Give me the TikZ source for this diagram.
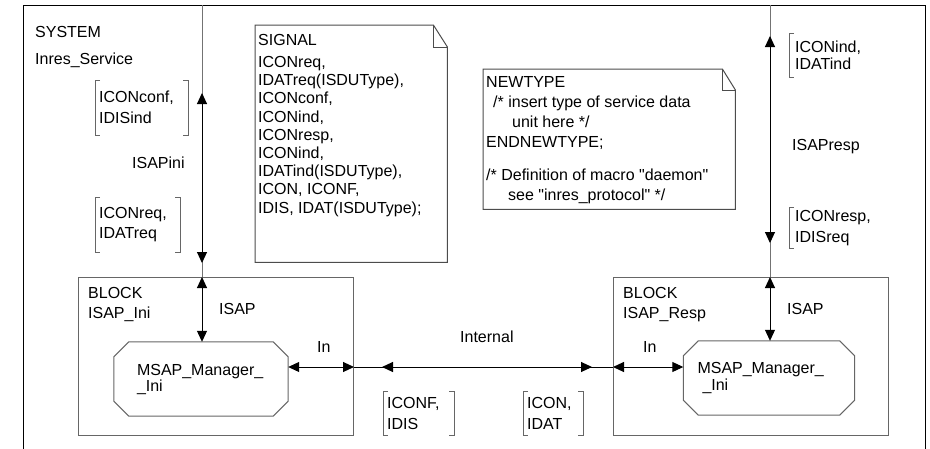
\documentclass[tikz,border=0pt]{standalone}
\usepackage{fontspec}
\setmainfont{Liberation Sans}
\usetikzlibrary{calc,arrows.meta}
\def\octagon[#1](#2)(#3){\draw[#1] ($(#2.north west)+(#3,0)$) -- ($(#2.north east)+(-#3,0)$) -- ($(#2.north east)+(0,#3)$) -- ($(#2.south east)+(0,-#3)$) -- ($(#2.south east)+(-#3,0)$) -- ($(#2.south west)+(#3,0)$) -- ($(#2.south west)+(0,-#3)$) -- ($(#2.north west)+(0,#3)$) -- cycle;}
\def\notepage[#1](#2)(#3:#4){\draw[#1] ($(#2.north east)+(-#3,0)$) -- (#2.north west) -- (#2.south west) -- (#2.south east) -- ($(#2.north east)+(0,#4)$) -- cycle; \draw[#1] ($(#2.north east)+(-#3,0)$) -- ++(0,#4) -- ($(#2.north east)+(0,#4)$);}
\def\sigbrk[#1](#2){\draw[#1] ($(#2.north west)+(5,0)$) -- (#2.north west) -- (#2.south west) -- ++(5,0); \draw[#1] ($(#2.north east)+(-5,0)$) -- (#2.north east) -- (#2.south east) -- ++(-5,0);}
\def\sigbrkl[#1](#2){\draw[#1] ($(#2.north west)+(5,0)$) -- (#2.north west) -- (#2.south west) -- ++(5,0);}

\begin{document}
\begin{tikzpicture}[x=1pt, y=-1pt, font=\fontsize{16}{20}\selectfont,
	txt/.style={inner sep=0pt, anchor=north west, align=left},
	sig/.style={inner xsep=4pt, inner ysep=0pt, anchor=north west, align=left},
	blk/.style={draw=black!60, line width=1pt, inner sep=0pt, anchor=north west},
	proc/.style={inner ysep=0pt, align=left},
	note/.style={inner sep=0pt, anchor=north west},
	chan/.style={line width=1pt},
	bothtips/.style={{Triangle[length=11pt,width=10pt]}-{Triangle[length=11pt,width=10pt]}}]
		%%%%% START %%%%%
		\useasboundingbox (0,0) rectangle (930,448);
		\clip (0,0) rectangle (930,448);
		
		% system frame
		\draw[line width=1pt] (23,470) |- (925,5) -- (925,470);
		\node[txt, font=\fontsize{16}{27}\selectfont] (sysname) at (35,26) {SYSTEM\\Inres\_Service};
		
		% text symbols
		\node[note, minimum width=192, minimum height=237] (signals) at (255,25) {};
		\notepage[draw=black!70, line width=1pt](signals)(14:22);
		\node[txt, font=\fontsize{16}{18.2}\selectfont] (signaltxt) at ([shift={(3,9)}]signals.north west) {SIGNAL\\[4pt]ICONreq,\\IDATreq(ISDUType),\\ICONconf,\\ICONind,\\ICONresp,\\ICONind,\\IDATind(ISDUType),\\ICON, ICONF,\\IDIS, IDAT(ISDUType);};
		
		\node[note, minimum width=252, minimum height=140] (newtype) at (483,69) {};
		\notepage[draw=black!70, line width=1pt](newtype)(13:21);
		\node[txt] (newtypetxt) at ([shift={(3,7)}]newtype.north west) {NEWTYPE\\\hspace*{7pt}/* insert type of service data\\\hspace*{26pt}unit here */\\ENDNEWTYPE;\\[13pt]/* Definition of macro \textquotedbl daemon\textquotedbl\\\hspace*{22pt}see \textquotedbl inres\_protocol\textquotedbl\ */};
		
		% blocks
		\node[blk, minimum width=275, minimum height=158] (isapini) at (78,277) {};
		\node[txt] (inilbl) at ([shift={(10,10)}]isapini.north west) {BLOCK\\ISAP\_Ini};
		\node[blk, minimum width=275, minimum height=158] (isapresp) at (613,277) {};
		\node[txt] (resplbl) at ([shift={(10,10)}]isapresp.north west) {BLOCK\\ISAP\_Resp};
		
		% processes
		\node[proc, text width=128, inner xsep=23, minimum height=74, font=\fontsize{16}{16}\selectfont] (mgrini) at (201,379) {MSAP\_Manager\_\\\_Ini};
		\octagon[draw=black!60, line width=1pt](mgrini)(15);
		\node[proc, text width=143, inner xsep=14, minimum height=74, font=\fontsize{16}{17}\selectfont] (mgrresp) at (769,378) {MSAP\_Manager\_\\\hspace*{5pt}\_Ini};
		\octagon[draw=black!60, line width=1pt](mgrresp)(15);
		
		% channels to the environment
		\coordinate (envini) at (202,5);
		\coordinate (envresp) at (770,5);
		\coordinate (lvl) at (0,367);
		
		\draw[chan, black!55] (envini) -- (envini |- isapini.north);
		\draw[chan, bothtips] ($(envini)+(0,88)$) -- ($(envini |- isapini.north)+(0,-14)$);
		\draw[chan, black!55] (envresp) -- (envresp |- isapresp.north);
		\draw[chan, bothtips] ($(envresp)+(0,31)$) -- ($(envresp |- isapresp.north)+(0,-34)$);
		
		% signal routes
		\draw[chan, bothtips] (envini |- isapini.north) -- (envini |- mgrini.north);
		\draw[chan, bothtips] (envresp |- isapresp.north) -- (envresp |- mgrresp.north);
		\draw[chan, bothtips] (mgrini.east |- lvl) -- (isapini.east |- lvl);
		\draw[chan, bothtips] (isapresp.west |- lvl) -- (mgrresp.west |- lvl);
		
		% internal channel
		\draw[chan] (isapini.east |- lvl) -- (isapresp.west |- lvl);
		\draw[chan, bothtips] ($(isapini.east |- lvl)+(28,0)$) -- ($(isapresp.west |- lvl)+(-21,0)$);
		
		% names
		\node[txt] (isapinilbl) at (132,157) {ISAPini};
		\node[txt] (isaprespLbl) at (792,139) {ISAPresp};
		\node[txt] (isapl) at (219,303) {ISAP};
		\node[txt] (isapr) at (787,303) {ISAP};
		\node[txt] (inl) at (317,341) {In};
		\node[txt] (inr) at (643,341) {In};
		\node[txt] (internal) at (460,331) {Internal};
		
		% signal lists
		\node[sig, text width=85, minimum height=55, font=\fontsize{16}{21}\selectfont] (confind) at (95,80) {ICONconf,\\IDISind};
		\sigbrk[draw=black!60, line width=1pt](confind);
		\node[sig, text width=77, minimum height=55] (reqreq) at (95,197) {ICONreq,\\IDATreq};
		\sigbrk[draw=black!60, line width=1pt](reqreq);
		\node[sig, inner xsep=6pt, text width=70, minimum height=44, font=\fontsize{16}{17}\selectfont] (indind) at (789,33) {ICONind,\\IDATind};
		\sigbrkl[draw=black!60, line width=1pt](indind);
		\node[sig, inner xsep=6pt, text width=70, minimum height=41, font=\fontsize{16}{21}\selectfont] (respreq) at (789,207) {ICONresp,\\IDISreq};
		\sigbrkl[draw=black!60, line width=1pt](respreq);
		\node[sig, text width=63, minimum height=44, font=\fontsize{16}{21}\selectfont] (confdis) at (383,391) {ICONF,\\IDIS};
		\sigbrk[draw=black!60, line width=1pt](confdis);
		\node[sig, text width=52, minimum height=44, font=\fontsize{16}{21}\selectfont] (condat) at (523,391) {ICON,\\IDAT};
		\sigbrk[draw=black!60, line width=1pt](condat);
		%%%%% END %%%%%
\end{tikzpicture}
\end{document}
